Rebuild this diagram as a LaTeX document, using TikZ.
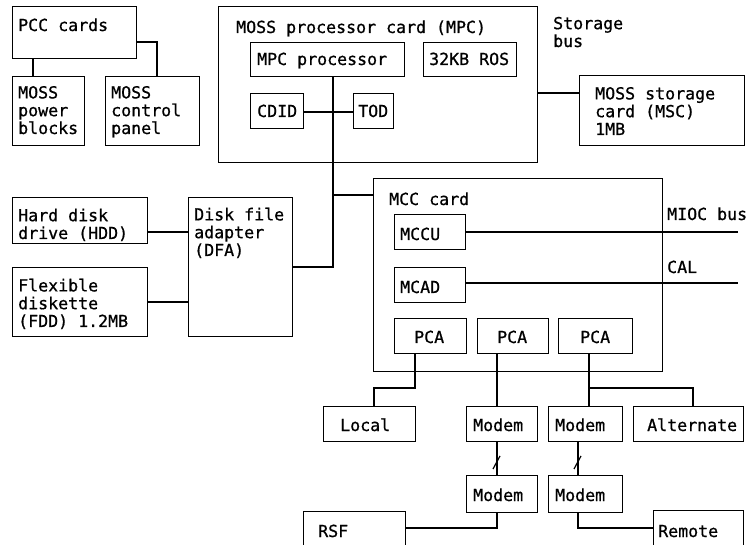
\documentclass[tikz,border=0pt]{standalone}
\usepackage{fontspec}
\newfontfamily\ibmmono[FakeBold=0.8]{DejaVu Sans Mono}
\usetikzlibrary{calc}
\newcommand\bx[5]{\node[blk,minimum width=#4pt,minimum height=#5pt] (#1) at (#2,#3) {};}
\begin{document}
\begin{tikzpicture}[x=1pt,y=-1pt,
  every node/.style={font=\ibmmono\fontsize{16.6}{17.8}\selectfont},
  blk/.style={draw, line width=1.2pt, inner sep=0pt, anchor=north west},
  txt/.style={anchor=base west, inner sep=0pt, align=left},
  wire/.style={line width=1.2pt}]
\clip (0,0) rectangle (750,545);
% boxes: name, left, top, width, height
\bx{pcc}{12}{6}{124}{52}
\bx{pwr}{12}{76}{72}{69}
\bx{ctl}{105}{76}{94}{69}
\bx{mpc}{218}{6}{319}{156}
\bx{mpcp}{250}{42}{154}{34}
\bx{ros}{423}{42}{93}{34}
\bx{cdid}{250}{93}{53}{35}
\bx{tod}{353}{93}{40}{35}
\bx{msc}{579}{75}{165}{70}
\bx{hdd}{12}{197}{135}{46}
\bx{fdd}{12}{267}{135}{69}
\bx{dfa}{188}{197}{104}{139}
\bx{mcc}{373}{178}{289}{193}
\bx{mccu}{394}{214}{71}{35}
\bx{mcad}{394}{267}{71}{35}
\bx{pcaa}{394}{318}{72}{35}
\bx{pcab}{477}{318}{71}{35}
\bx{pcac}{558}{318}{74}{35}
\bx{local}{323}{406}{92}{35}
\bx{mda}{466}{406}{71}{35}
\bx{mdb}{548}{406}{74}{35}
\bx{alt}{633}{406}{110}{35}
\bx{mdc}{466}{475}{71}{37}
\bx{mdd}{548}{475}{74}{37}
\bx{rsf}{303}{511}{102}{60}
\bx{rem}{653}{510}{90}{60}
% texts (multi-line nodes: base = baseline of last line)
\node[txt] (tpcc) at (18,31) {PCC cards};
\node[txt] (tpwr) at (18,134) {MOSS\\power\\blocks};
\node[txt] (tctl) at (111,134) {MOSS\\control\\panel};
\node[txt] (tmpc) at (236,33) {MOSS processor card (MPC)};
\node[txt] (tmpcp) at (257,65) {MPC processor};
\node[txt] (tros) at (429,65) {32KB ROS};
\node[txt] (tcdid) at (257,117) {CDID};
\node[txt] (ttod) at (358,117) {TOD};
\node[txt] (tsb) at (553,47) {Storage\\bus};
\node[txt] (tmsc) at (595,135) {MOSS storage\\card (MSC)\\1MB};
\node[txt] (thdd) at (18,239) {Hard disk\\drive (HDD)};
\node[txt] (tfdd) at (18,327) {Flexible\\diskette\\(FDD) 1.2MB};
\node[txt] (tdfa) at (194,256) {Disk file\\adapter\\(DFA)};
\node[txt] (tmcc) at (389,205) {MCC card};
\node[txt] (tmccu) at (400,240) {MCCU};
\node[txt] (tmcad) at (400,293) {MCAD};
\node[txt] (tmioc) at (667,220) {MIOC bus};
\node[txt] (tcal) at (667,273) {CAL};
\node[txt] (tpcaa) at (414,343) {PCA};
\node[txt] (tpcab) at (497,343) {PCA};
\node[txt] (tpcac) at (580,343) {PCA};
\node[txt] (tlocal) at (340,431) {Local};
\node[txt] (tmda) at (473,431) {Modem};
\node[txt] (tmdb) at (555,431) {Modem};
\node[txt] (talt) at (647,431) {Alternate};
\node[txt] (tmdc) at (473,501) {Modem};
\node[txt] (tmdd) at (555,501) {Modem};
\node[txt] (trsf) at (318,537) {RSF};
\node[txt] (trem) at (658,537) {Remote};
% junction coordinates
\coordinate (ja) at (333,195);
\coordinate (jb) at (333,267);
\coordinate (mioc) at (738,232);
\coordinate (cal) at (738,283);
\coordinate (pa) at (374,388);
\coordinate (pcj) at (589,388);
\coordinate (pc) at (693,388);
\coordinate (ra) at (497,528);
\coordinate (rb) at (578,528);
% connectors
\draw[wire] (pcc.south -| 33,0) -- (pwr.north -| 33,0);
\draw[wire] (pcc.east |- 0,42) -| (ctl.north -| 157,0);
\draw[wire] (mpcp.south -| ja) -- (jb) -- (jb -| dfa.east);
\draw[wire] (ja) -- (ja -| mcc.west);
\draw[wire] (cdid.east |- 0,112) -- (tod.west |- 0,112);
\draw[wire] (mpc.east |- 0,93) -- (msc.west |- 0,93);
\draw[wire] (hdd.east |- 0,232) -- (dfa.west |- 0,232);
\draw[wire] (fdd.east |- 0,302) -- (dfa.west |- 0,302);
\draw[wire] (mccu.east |- mioc) -- (mioc);
\draw[wire] (mcad.east |- cal) -- (cal);
\draw[wire] (pcaa.south -| 415,0) |- (pa) -- (local.north -| pa);
\draw[wire] (pcab.south -| 497,0) -- (mda.north -| 497,0);
\draw[wire] (pcac.south -| pcj) -- (mdb.north -| pcj);
\draw[wire] (pcj) -- (pc) -- (alt.north -| pc);
\draw[wire] (mda.south -| 497,0) -- (mdc.north -| 497,0);
\draw[wire] (mdb.south -| 578,0) -- (mdd.north -| 578,0);
\draw[wire] (mdc.south -| ra) -- (ra) -- (ra -| rsf.east);
\draw[wire] (mdd.south -| rb) -- (rb) -- (rb -| rem.west);
% line-break slashes
\draw[wire] (493,469) -- (500,456);
\draw[wire] (574,469) -- (581,456);
\end{tikzpicture}
\end{document}
